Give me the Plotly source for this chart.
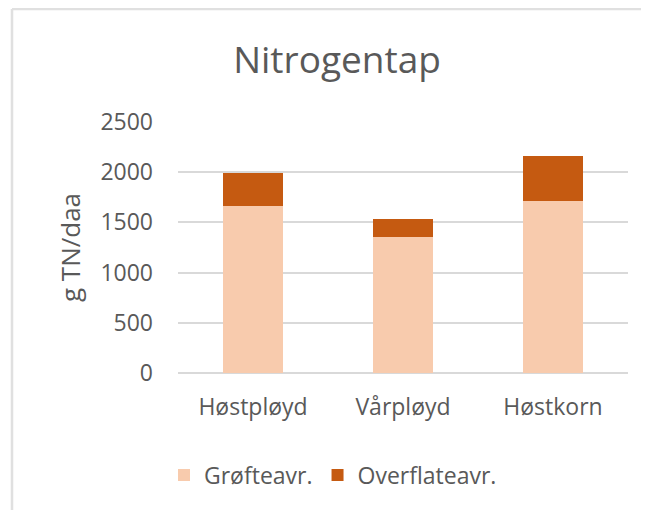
import plotly.graph_objects as go

categories = ["Høstpløyd", "Vårpløyd", "Høstkorn"]
grofte = [1665, 1350, 1715]
overflate = [325, 185, 450]
series_names = ["Grøfteavr.", "Overflateavr."]
y_ticks = [0, 500, 1000, 1500, 2000, 2500]

# The page body adds an 8px offset, so the figure is sized to fit the window.
OFF = 8
W, H = 649 - OFF, 510 - OFF
L, T = 178 - OFF, 122 - OFF
pw, ph = 450, 251
R, B = W - L - pw, H - T - ph


def px(x_ref):
    return (x_ref - OFF - L) / pw


def py(y_ref):
    return (H - B - (y_ref - OFF)) / ph


txt = "#595959"
font = "Open Sans"

fig = go.Figure()
fig.add_bar(x=categories, y=grofte, name=series_names[0], marker_color="#F8CBAD",
            marker_line_width=0)
fig.add_bar(x=categories, y=overflate, name=series_names[1], marker_color="#C55A11",
            marker_line_width=0)

fig.update_layout(
    width=W, height=H,
    margin=dict(l=L, r=R, t=T, b=B, autoexpand=False),
    barmode="stack",
    bargap=0.6,
    plot_bgcolor="white",
    paper_bgcolor="white",
    font=dict(family=font, color=txt, size=23),
    title=dict(text="Nitrogentap", x=(337 - OFF) / W, xanchor="center", xref="container",
               y=1 - (60 - OFF) / H, yanchor="middle", yref="container",
               font=dict(size=37, color=txt, family=font)),
    showlegend=True,
    legend=dict(orientation="h", x=px(333), xanchor="center", y=py(475), yanchor="middle",
                font=dict(size=23, color=txt), traceorder="normal", itemwidth=30),
    xaxis=dict(showgrid=False, showline=False, tickfont=dict(size=23, color=txt),
               ticks="", ticklabelstandoff=18),
    yaxis=dict(range=[0, 2500], tickvals=y_ticks, showgrid=True, gridcolor="#d9d9d9",
               gridwidth=1.5, zeroline=True, zerolinecolor="#d9d9d9", zerolinewidth=1.5,
               tickfont=dict(size=23, color=txt), ticks="", ticklabelstandoff=24,
               title=dict(text="g TN/daa", font=dict(size=26, color=txt), standoff=12)),
    shapes=[
        dict(type="line", xref="paper", yref="paper", x0=px(12), x1=px(700), y0=py(9), y1=py(9),
             line=dict(color="#e0e0e0", width=2.5)),
        dict(type="line", xref="paper", yref="paper", x0=px(12), x1=px(12), y0=py(9), y1=py(600),
             line=dict(color="#e0e0e0", width=2.5)),
    ],
)

fig.write_html("out.html")
